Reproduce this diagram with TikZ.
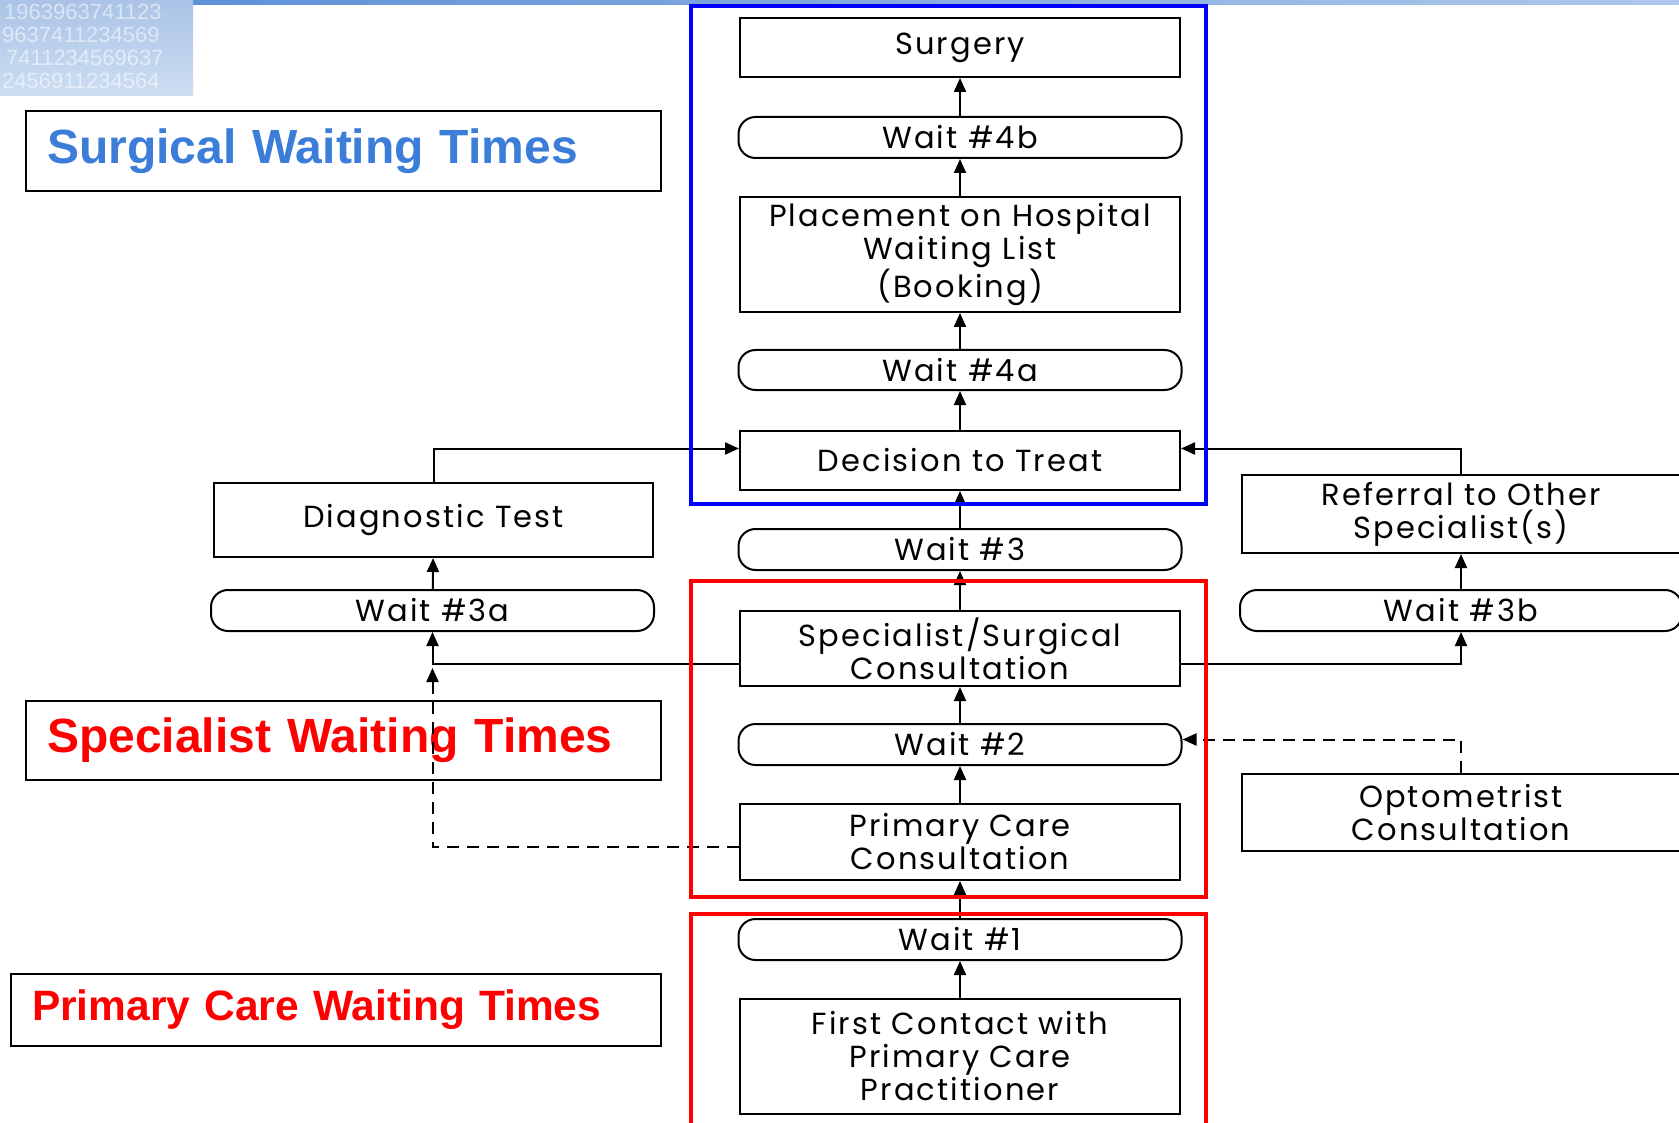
\documentclass[tikz,border=0pt]{standalone}
\usepackage{fontspec}
\usetikzlibrary{arrows.meta}
\newfontfamily\diagfont{Poppins}[LetterSpace=7]
\newfontfamily\lblfont{Liberation Sans}
\definecolor{surgblue}{RGB}{59,125,216}
\definecolor{decoA}{RGB}{170,195,230}
\definecolor{decoB}{RGB}{205,222,242}
\definecolor{stripA}{RGB}{95,145,215}
\definecolor{stripB}{RGB}{175,200,235}
\tikzset{
  box/.style={draw, line width=2pt, minimum width=440pt, inner sep=0pt, align=center,
    font=\diagfont\fontsize{30.5}{33}\selectfont},
  waitbox/.style={box, rounded corners=17pt, minimum height=41pt},
  conn/.style={line width=2pt, -{Triangle[length=14pt,width=12pt]}},
  dconn/.style={conn, dash pattern=on 12pt off 8pt},
  region/.style={line width=4.5pt},
  lbl/.style={draw, line width=2pt, inner ysep=0pt, inner xsep=21pt, align=left,
    font=\lblfont\bfseries}
}
\begin{document}
\begin{tikzpicture}[x=1pt,y=-1pt]
\useasboundingbox (0,0) rectangle (1679,1123);
\clip (0,0) rectangle (1679,1123);
\fill[white] (0,0) rectangle (1679,1123);
% decorative corner and top strip
\shade[left color=stripA, right color=stripB] (193,0) rectangle (1679,5);
\shade[top color=decoA, bottom color=decoB] (0,0) rectangle (193,96);
\begin{scope}[every node/.style={anchor=west, inner sep=0pt, text=white, opacity=0.55,
   font=\lblfont\fontsize{22}{22}\selectfont}]
\node (d1) at (4,12) {1963963741123};
\node (d2) at (2,35) {9637411234569};
\node (d3) at (6,58) {7411234569637};
\node (d4) at (2,81) {2456911234564};
\end{scope}
% labels
\node[lbl, text width=593pt, minimum height=80pt, text=surgblue, font=\lblfont\bfseries\fontsize{48}{52}\selectfont]
  (lsurg) at (343.5,151) {Surgical Waiting Times};
\node[lbl, text width=593pt, minimum height=79pt, text=red, font=\lblfont\bfseries\fontsize{48}{52}\selectfont]
  (lspec) at (343.5,740.5) {Specialist Waiting Times};
\node[lbl, text width=608pt, minimum height=72pt, text=red, font=\lblfont\bfseries\fontsize{42.5}{46}\selectfont]
  (lprim) at (336,1010) {Primary Care Waiting Times};
% centre column
\node[box, minimum height=59pt] (surgery) at (960,47.5) {Surgery};
\node[waitbox, minimum width=443pt] (w4b) at (960,137.5) {Wait \#4b};
\node[box, minimum height=115pt] (place) at (960,254.5) {Placement on Hospital\\Waiting List\\(Booking)};
\node[waitbox, minimum width=443pt, minimum height=40pt] (w4a) at (960,370) {Wait \#4a};
\node[box, minimum height=59pt] (decide) at (960,460.5) {Decision to Treat};
\node[waitbox, minimum width=443pt] (w3) at (960,549.5) {Wait \#3};
\node[box, minimum height=75pt] (spec) at (960,648.5) {Specialist/Surgical\\Consultation};
\node[waitbox, minimum width=443pt] (w2) at (960,744.5) {Wait \#2};
\node[box, minimum height=76pt] (pcc) at (960,842) {Primary Care\\Consultation};
\node[waitbox, minimum width=443pt] (w1) at (960,939.5) {Wait \#1};
\node[box, minimum height=115pt] (first) at (960,1056.5) {First Contact with\\Primary Care\\Practitioner};
% left column
\node[box, minimum width=439pt, minimum height=74pt] (diag) at (433.5,520) {Diagnostic Test};
\node[waitbox, minimum width=443pt] (w3a) at (432.5,610.5) {Wait \#3a};
% right column
\node[box, minimum width=438pt, minimum height=78pt] (refer) at (1461,514) {Referral to Other\\Specialist(s)};
\node[waitbox, minimum width=442pt] (w3b) at (1461,610.5) {Wait \#3b};
\node[box, minimum width=438pt, minimum height=77pt] (opto) at (1461,812.5) {Optometrist\\Consultation};
% connectors, centre column
\draw[conn] (first) -- (w1);
\draw[conn] (w1) -- (pcc);
\draw[conn] (pcc) -- (w2);
\draw[conn] (w2) -- (spec);
\draw[conn] (spec) -- (w3);
\draw[conn] (w3) -- (decide);
\draw[conn] (decide) -- (w4a);
\draw[conn] (w4a) -- (place);
\draw[conn] (place) -- (w4b);
\draw[conn] (w4b) -- (surgery);
% left
\draw[conn] (diag.north) |- ([yshift=12pt]decide.west);
\draw[conn] (w3a) -- (diag);
\draw[conn] ([yshift=-15pt]spec.west) -| (w3a.south);
\coordinate (dtip) at ([yshift=-36pt]w3a.south);
\draw[dconn] ([yshift=-5pt]pcc.west) -| (dtip);
% right
\draw[conn] (refer.north) |- ([yshift=12pt]decide.east);
\draw[conn] (w3b) -- (refer);
\draw[conn] ([yshift=-15pt]spec.east) -| (w3b.south);
\draw[dconn] (opto.north) |- ([yshift=5pt]w2.east);
% regions
\draw[region, blue] (691,6) rectangle (1206,504);
\draw[region, red] (691,581) rectangle (1206,897);
\draw[region, red] (691,914) rectangle (1206,1140);
\end{tikzpicture}
\end{document}
